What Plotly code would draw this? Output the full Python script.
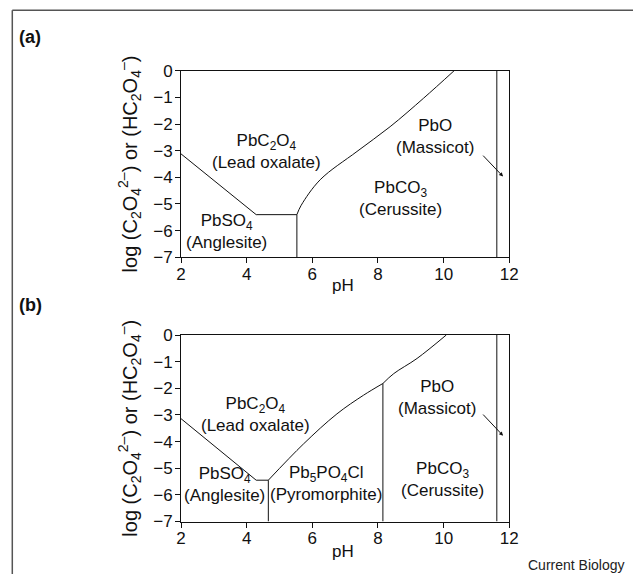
import plotly.graph_objects as go

# ---------------- data (pH, log activity) ----------------
# Panel (a)
a_anglesite_oxalate_ph = [2.0, 4.29]
a_anglesite_oxalate_log = [-3.12, -5.40]
a_anglesite_top_ph = [4.29, 5.53]
a_anglesite_top_log = [-5.40, -5.40]
a_anglesite_cerussite_ph = [5.53, 5.53]
a_anglesite_cerussite_log = [-5.40, -7.0]
a_oxalate_cerussite_ph = [5.53, 5.66, 6.24, 7.36, 8.37, 9.39, 10.32]
a_oxalate_cerussite_log = [-5.40, -5.05, -4.09, -3.03, -2.10, -1.03, 0.0]
a_massicot_ph = [11.62, 11.62]
a_massicot_log = [-7.0, 0.0]

# Panel (b)
b_anglesite_oxalate_ph = [2.0, 4.29]
b_anglesite_oxalate_log = [-3.14, -5.45]
b_anglesite_top_ph = [4.29, 4.66]
b_anglesite_top_log = [-5.45, -5.45]
b_anglesite_pyro_ph = [4.66, 4.66]
b_anglesite_pyro_log = [-5.45, -7.0]
b_oxalate_pyro_ph = [4.66, 5.73, 6.75, 7.56, 8.15]
b_oxalate_pyro_log = [-5.45, -4.09, -2.96, -2.26, -1.82]
b_oxalate_cerussite_ph = [8.15, 8.48, 9.19, 10.08]
b_oxalate_cerussite_log = [-1.82, -1.45, -0.88, 0.0]
b_pyro_cerussite_ph = [8.15, 8.15]
b_pyro_cerussite_log = [-1.82, -7.0]
b_massicot_ph = [11.62, 11.62]
b_massicot_log = [-7.0, 0.0]

# Region labels
a_labels_x = [4.61, 3.39, 9.74, 8.68]
a_labels_y = [-3.03, -6.02, -2.47, -4.81]
a_labels_t = ["PbC<sub>2</sub>O<sub>4</sub><br>(Lead oxalate)",
              "PbSO<sub>4</sub><br>(Anglesite)",
              "PbO<br>(Massicot)",
              "PbCO<sub>3</sub><br>(Cerussite)"]
b_labels_x = [4.26, 3.34, 6.42, 9.80, 9.95]
b_labels_y = [-2.99, -5.62, -5.59, -2.34, -5.43]
b_labels_t = ["PbC<sub>2</sub>O<sub>4</sub><br>(Lead oxalate)",
              "PbSO<sub>4</sub><br>(Anglesite)",
              "Pb<sub>5</sub>PO<sub>4</sub>Cl<br>(Pyromorphite)",
              "PbO<br>(Massicot)",
              "PbCO<sub>3</sub><br>(Cerussite)"]

# Arrows pointing to the thin massicot field: tail (x,y) -> head (x,y)
a_arrow = [11.16, -3.13, 11.81, -3.97]
b_arrow = [11.16, -2.93, 11.81, -3.78]

x_ticks = [2, 4, 6, 8, 10, 12]
y_ticks = [0, -1, -2, -3, -4, -5, -6, -7]

FONT = "Liberation Sans, Arial, Helvetica, sans-serif"
W, H = 641, 574
OFF = 8  # page body margin offset
INK = "#111111"


def px(xs):
    return (xs - OFF) / W


def py(ys):
    return 1 - (ys - OFF) / H


fig = go.Figure()


def add(xs, ys, xa, ya, smooth=False):
    fig.add_trace(go.Scatter(x=xs, y=ys, mode="lines",
                             line=dict(color=INK, width=1,
                                       shape="spline" if smooth else "linear",
                                       smoothing=1.0 if smooth else None),
                             xaxis=xa, yaxis=ya, showlegend=False, hoverinfo="skip"))


add(a_anglesite_oxalate_ph, a_anglesite_oxalate_log, "x", "y")
add(a_anglesite_top_ph, a_anglesite_top_log, "x", "y")
add(a_anglesite_cerussite_ph, a_anglesite_cerussite_log, "x", "y")
add(a_oxalate_cerussite_ph, a_oxalate_cerussite_log, "x", "y", smooth=True)
add(a_massicot_ph, a_massicot_log, "x", "y")

add(b_anglesite_oxalate_ph, b_anglesite_oxalate_log, "x2", "y2")
add(b_anglesite_top_ph, b_anglesite_top_log, "x2", "y2")
add(b_anglesite_pyro_ph, b_anglesite_pyro_log, "x2", "y2")
add(b_oxalate_pyro_ph, b_oxalate_pyro_log, "x2", "y2", smooth=True)
add(b_oxalate_cerussite_ph, b_oxalate_cerussite_log, "x2", "y2", smooth=True)
add(b_pyro_cerussite_ph, b_pyro_cerussite_log, "x2", "y2")
add(b_massicot_ph, b_massicot_log, "x2", "y2")

xdom = [px(181), px(509.3)]
ya_dom = [py(257.3), py(70.7)]
yb_dom = [py(521.5), py(335)]

ytitle = "log (C<sub>2</sub>O<sub>4</sub><sup>2–</sup>) or (HC<sub>2</sub>O<sub>4</sub><sup>–</sup>)"

common_x = dict(range=[2, 12], tickvals=x_ticks, showline=True, mirror=True,
                linecolor=INK, linewidth=1, ticks="outside", ticklen=5,
                tickcolor=INK, showgrid=False, zeroline=False, automargin=False,
                ticklabelstandoff=-4,
                tickfont=dict(size=17, color=INK, family=FONT))
common_y = dict(range=[-7, 0], tickvals=y_ticks, showline=True, mirror=True,
                linecolor=INK, linewidth=1, ticks="outside", ticklen=5,
                tickcolor=INK, showgrid=False, zeroline=False, automargin=False,
                ticklabelstandoff=-1,
                tickfont=dict(size=17, color=INK, family=FONT),
                title=dict(text=ytitle, font=dict(size=20, color=INK, family=FONT), standoff=10))

annotations = []
for xs, ys, ts, xr, yr in [(a_labels_x, a_labels_y, a_labels_t, "x", "y"),
                           (b_labels_x, b_labels_y, b_labels_t, "x2", "y2")]:
    for x, y, t in zip(xs, ys, ts):
        annotations.append(dict(x=x, y=y, xref=xr, yref=yr, text=t, showarrow=False,
                                font=dict(size=17, color=INK, family=FONT),
                                align="center"))

for arr, xr, yr in [(a_arrow, "x", "y"), (b_arrow, "x2", "y2")]:
    annotations.append(dict(x=arr[2], y=arr[3], ax=arr[0], ay=arr[1], xref=xr, yref=yr,
                            axref=xr, ayref=yr, text="", showarrow=True,
                            arrowhead=2, arrowsize=0.8, arrowwidth=1, arrowcolor=INK))

# x-axis titles ("pH") sit tight under the tick labels
for yc in (285.5, 551):
    annotations.append(dict(x=px(342.7), y=py(yc), xref="paper", yref="paper", text="pH",
                            showarrow=False, xanchor="center", yanchor="middle",
                            font=dict(size=17, color=INK, family=FONT)))

annotations.append(dict(x=px(17), y=py(37), xref="paper", yref="paper", text="<b>(a)</b>",
                        showarrow=False, xanchor="left", yanchor="middle",
                        font=dict(size=18, color=INK, family=FONT)))
annotations.append(dict(x=px(17), y=py(305), xref="paper", yref="paper", text="<b>(b)</b>",
                        showarrow=False, xanchor="left", yanchor="middle",
                        font=dict(size=18, color=INK, family=FONT)))
annotations.append(dict(x=px(627), y=py(565), xref="paper", yref="paper", text="Current Biology",
                        showarrow=False, xanchor="right", yanchor="middle",
                        font=dict(size=14, color="#222222", family=FONT)))

shapes = [
    dict(type="line", xref="paper", yref="paper", x0=px(12.3), x1=1, y0=py(10.3), y1=py(10.3),
         line=dict(color="#555555", width=1.5)),
    dict(type="line", xref="paper", yref="paper", x0=px(12.3), x1=px(12.3), y0=0, y1=py(10.3),
         line=dict(color="#555555", width=1.5)),
]

fig.update_layout(
    width=W, height=H,
    margin=dict(l=0, r=0, t=0, b=0, pad=0, autoexpand=False),
    paper_bgcolor="white", plot_bgcolor="white",
    font=dict(family=FONT, color=INK),
    xaxis=dict(domain=xdom, anchor="y", **common_x),
    yaxis=dict(domain=ya_dom, anchor="x", **common_y),
    xaxis2=dict(domain=xdom, anchor="y2", **common_x),
    yaxis2=dict(domain=yb_dom, anchor="x2", **common_y),
    annotations=annotations,
    shapes=shapes,
    showlegend=False,
)

fig.write_html("out.html")
